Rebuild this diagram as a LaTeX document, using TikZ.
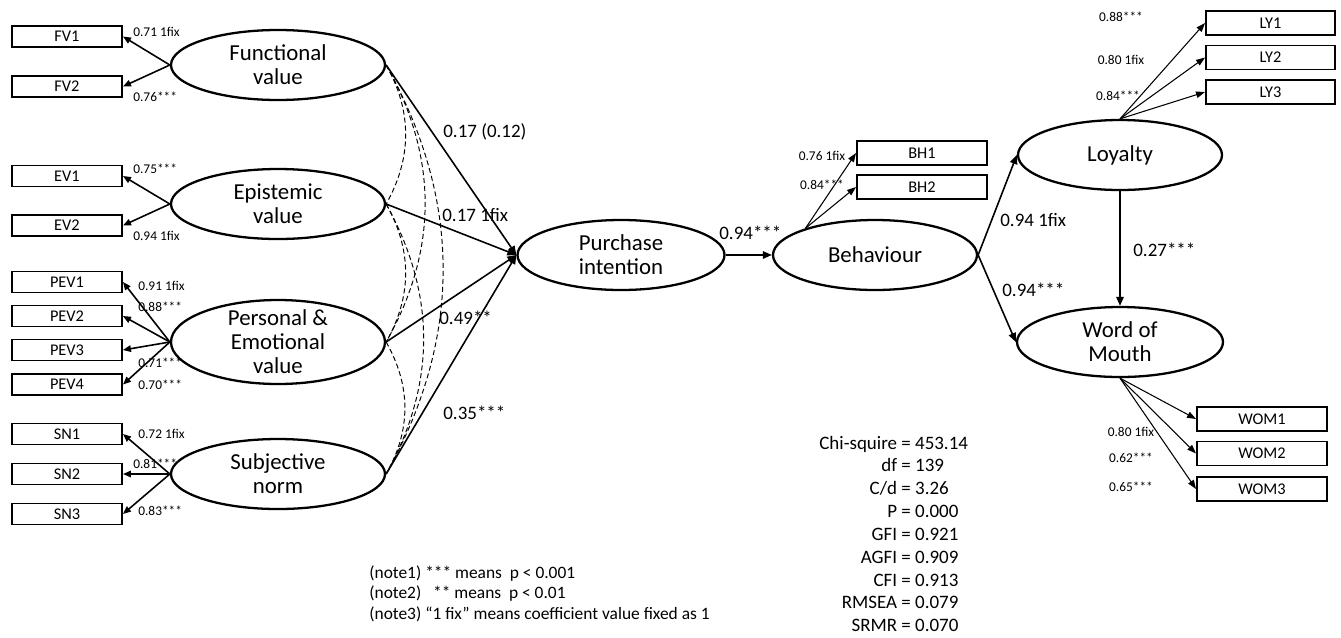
\documentclass[tikz,border=0pt]{standalone}
\usepackage{fontspec}
\setmainfont{Carlito}
\usetikzlibrary{shapes.geometric, arrows.meta, positioning}

\begin{document}
\begin{tikzpicture}[x=0.2mm, y=-0.2mm,
    latent/.style={ellipse, draw, line width=1.3pt, minimum width=4.28cm, minimum height=1.4cm, inner sep=0pt},
    ltext/.style={align=center, font=\fontsize{13}{13.6}\selectfont},
    indicator/.style={rectangle, draw, line width=1.1pt, minimum width=2.2cm, minimum height=0.42cm, inner sep=0pt, font=\fontsize{9.3}{11}\selectfont},
    rindicator/.style={indicator, minimum width=2.6cm, minimum height=0.48cm},
    coef/.style={font=\fontsize{7.6}{9}\selectfont, inner sep=0pt},
    plabel/.style={font=\fontsize{10.8}{13}\selectfont, inner sep=0pt, anchor=west},
    load/.style={-{Triangle[length=1.6mm, width=1.3mm]}, line width=0.9pt},
    thinload/.style={-{Triangle[length=1.8mm, width=1.3mm]}, line width=0.6pt},
    struct/.style={-{Triangle[length=1.8mm, width=1.5mm]}, line width=0.9pt},
    corr/.style={dash pattern=on 1mm off 0.6mm, line width=0.55pt}]
    \useasboundingbox (0,0) rectangle (1341,637);

    % Exogenous constructs
    \node (fv) [latent, label={[ltext]center:Functional\\value}] at (278,65) {};
    \node (ev) [latent, below of=fv, node distance=2.78cm, label={[ltext]center:Epistemic\\value}] {};
    \node (pev) [latent, below of=ev, node distance=2.76cm, minimum height=1.68cm, label={[ltext]center:Personal \&\\Emotional\\value}] {};
    \node (sn) [latent, below of=pev, node distance=2.64cm, label={[ltext]center:Subjective\\norm}] {};

    % Endogenous constructs
    \node (pi) [latent, minimum width=4.14cm, label={[ltext]center:Purchase\\intention}] at (621,255) {};
    \node (behav) [latent, minimum width=4.08cm, right of=pi, node distance=5.08cm, label={[ltext]center:Behaviour}] {};
    \node (loy) [latent, minimum width=4.08cm, label={[ltext]center:Loyalty}] at (1120,155) {};
    \node (wom) [latent, minimum width=4.12cm, below of=loy, node distance=3.74cm, label={[ltext]center:Word of\\Mouth}] {};

    % Indicators (left)
    \node (fv1) [indicator] at (67,36.5) {FV1};
    \node (fv2) [indicator, below of=fv1, node distance=1cm] {FV2};
    \node (ev1) [indicator] at (67,176) {EV1};
    \node (ev2) [indicator, below of=ev1, node distance=0.99cm] {EV2};
    \node (pev1) [indicator] at (67,282) {PEV1};
    \node (pev2) [indicator, below of=pev1, node distance=0.68cm] {PEV2};
    \node (pev3) [indicator, below of=pev2, node distance=0.68cm] {PEV3};
    \node (pev4) [indicator, below of=pev3, node distance=0.69cm] {PEV4};
    \node (sn1) [indicator] at (67,434) {SN1};
    \node (sn2) [indicator, below of=sn1, node distance=0.8cm] {SN2};
    \node (sn3) [indicator, below of=sn2, node distance=0.8cm] {SN3};

    % Indicators (right)
    \node (bh1) [rindicator] at (922,153) {BH1};
    \node (bh2) [rindicator, below of=bh1, node distance=0.68cm] {BH2};
    \node (ly1) [rindicator, minimum width=2.58cm] at (1270.5,23) {LY1};
    \node (ly2) [rindicator, minimum width=2.58cm, below of=ly1, node distance=0.69cm] {LY2};
    \node (ly3) [rindicator, minimum width=2.58cm, below of=ly2, node distance=0.69cm] {LY3};
    \node (wom1) [rindicator] at (1262,419) {WOM1};
    \node (wom2) [rindicator, below of=wom1, node distance=0.69cm] {WOM2};
    \node (wom3) [rindicator, below of=wom2, node distance=0.71cm] {WOM3};

    % Loadings
    \foreach \lat/\ind in {fv/fv1, fv/fv2, ev/ev1, ev/ev2, pev/pev1, pev/pev2, pev/pev3, pev/pev4, sn/sn1, sn/sn2, sn/sn3}
        \draw[load] (\lat.west) -- (\ind.east);
    \foreach \ind in {bh1, bh2}
        \draw[thinload] (behav.159) -- (\ind.west);
    \foreach \ind in {ly1, ly2, ly3}
        \draw[thinload] (loy.north) -- (\ind.west);
    \foreach \ind in {wom1, wom2, wom3}
        \draw[thinload] (wom.south) -- (\ind.west);

    % Correlations
    \draw[corr] (fv.east) .. controls +(26,46) and +(26,-46) .. (ev.east);
    \draw[corr] (fv.east) .. controls +(52,92) and +(52,-92) .. (pev.east);
    \draw[corr] (fv.east) .. controls +(76,136) and +(76,-136) .. (sn.east);
    \draw[corr] (ev.east) .. controls +(26,46) and +(26,-46) .. (pev.east);
    \draw[corr] (ev.east) .. controls +(50,90) and +(50,-90) .. (sn.east);
    \draw[corr] (pev.east) .. controls +(25,44) and +(25,-44) .. (sn.east);

    % Paths
    \foreach \lat in {fv, ev, pev, sn}
        \draw[struct] (\lat.east) -- (pi.west);
    \draw[struct] (pi.east) -- (behav.west);
    \draw[struct] (behav.east) -- (loy.west);
    \draw[struct] (behav.east) -- (wom.west);
    \draw[struct] (loy.south) -- (wom.north);

    % Loading values
    \node (cfv1) [coef, anchor=west] at (133,32) {0.71 1fix};
    \node (cfv2) [coef, anchor=west] at (133,97) {0.76***};
    \node (cev1) [coef, anchor=west] at (133,169) {0.75***};
    \node (cev2) [coef, anchor=west] at (133,236) {0.94 1fix};
    \node (cpev1) [coef, anchor=west] at (138,286) {0.91 1fix};
    \node (cpev2) [coef, anchor=west] at (138,307) {0.88***};
    \node (cpev3) [coef, anchor=west] at (138,363) {0.71***};
    \node (cpev4) [coef, anchor=west] at (138,385) {0.70***};
    \node (csn1) [coef, anchor=west] at (138,434) {0.72 1fix};
    \node (csn2) [coef, anchor=west] at (133,464) {0.81***};
    \node (csn3) [coef, anchor=west] at (138,511) {0.83***};
    \node (cbh1) [coef] at (822,156) {0.76 1fix};
    \node (cbh2) [coef] at (822,185) {0.84***};
    \node (cly1) [coef] at (1121,17) {0.88***};
    \node (cly2) [coef] at (1121,60) {0.80 1fix};
    \node (cly3) [coef] at (1118,96) {0.84***};
    \node (cwom1) [coef] at (1131,432) {0.80 1fix};
    \node (cwom2) [coef] at (1131,458) {0.62***};
    \node (cwom3) [coef] at (1131,487) {0.65***};

    % Path coefficients
    \node (pfv) [plabel] at (443,132) {0.17 (0.12)};
    \node (pev-c) [plabel] at (442,215) {0.17 1fix};
    \node (ppev) [plabel] at (439,318) {0.49**};
    \node (psn) [plabel] at (443,413) {0.35***};
    \node (ppi) [plabel] at (719,233) {0.94***};
    \node (pbl) [plabel] at (1000,220) {0.94 1fix};
    \node (pbw) [plabel] at (1002,290) {0.94***};
    \node (plw) [plabel] at (1133,250) {0.27***};

    % Fit indices
    \node (fit) [anchor=base west, inner sep=0pt, font=\fontsize{10.8}{13}\selectfont] at (819,449) {%
        \begin{tabular}[t]{@{}r@{\ =\ }l@{}}
        Chi-squire & 453.14\\
        df & 139\\
        C/d & 3.26\\
        P & 0.000\\
        GFI & 0.921\\
        AGFI & 0.909\\
        CFI & 0.913\\
        RMSEA & 0.079\\
        SRMR & 0.070
        \end{tabular}};

    % Notes
    \node (notes) [anchor=base west, inner sep=0pt, font=\fontsize{9.9}{11.9}\selectfont] at (369,578) {%
        \begin{tabular}[t]{@{}l@{}}
        (note1) *** means\ \ p < 0.001\\
        (note2)\ \ \ ** means\ \ p < 0.01\\
        (note3) “1 fix” means coefficient value fixed as 1
        \end{tabular}};
\end{tikzpicture}
\end{document}
